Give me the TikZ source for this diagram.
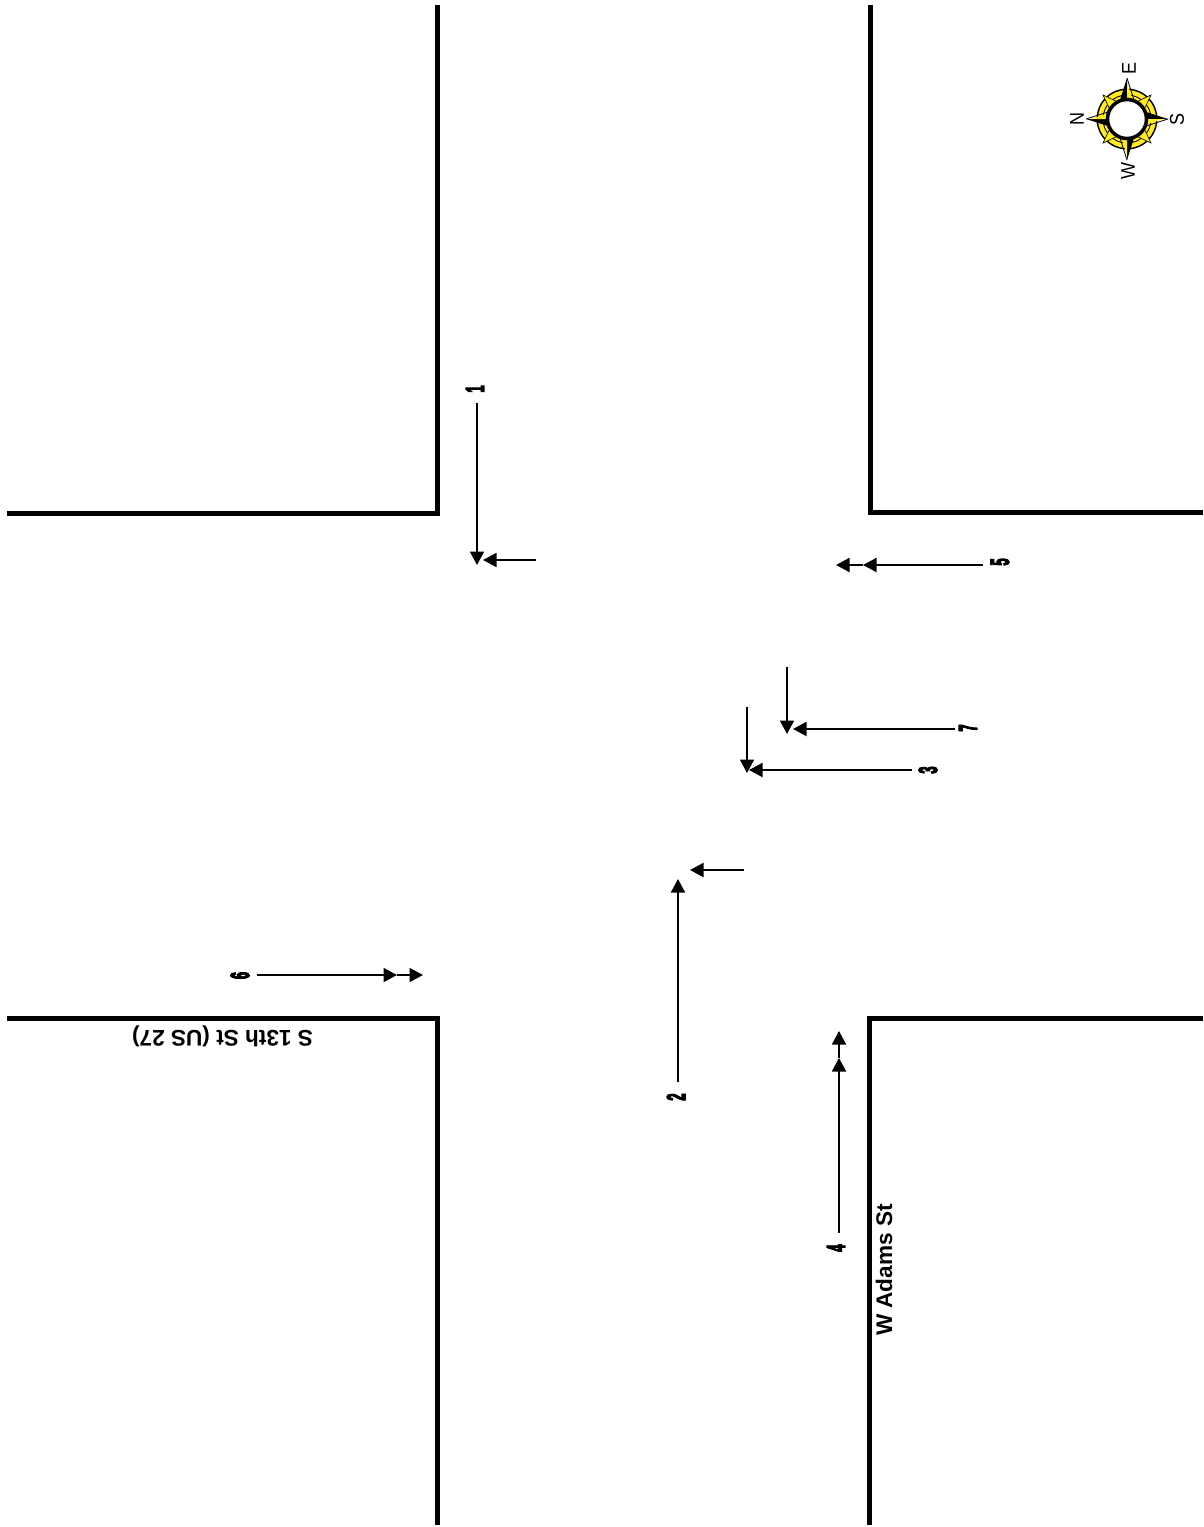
\documentclass[tikz,border=0pt]{standalone}
\usepackage{fontspec}
\setmainfont{Liberation Sans}[Kerning=Off]
\newfontfamily\blobfont{Liberation Sans Bold}[FakeBold=6,Kerning=Off]
\usetikzlibrary{arrows.meta}
\definecolor{ringyellow}{RGB}{255,235,30}
\newcommand\squeezed[1]{\scalebox{.5}[1]{#1}}
\newcommand\compassletter[1]{\scalebox{.9}[1]{#1}}
\tikzset{
  wall/.style={line width=5pt,line join=miter},
  arrowline/.style={line width=1.8pt,-{Triangle[length=13.5pt,width=14pt]}},
  number/.style={rotate=90,inner sep=0pt,font=\blobfont\fontsize{26}{26}\selectfont},
  street/.style={inner sep=0pt,font=\bfseries\fontsize{22.6}{24}\selectfont},
  dirletter/.style={rotate=90,inner sep=0pt,font=\fontsize{20}{21}\selectfont},
}
\begin{document}
\begin{tikzpicture}[x=1pt,y=-1pt]
\useasboundingbox (0,0) rectangle (1203,1527);
\fill[white] (0,0) rectangle (1203,1527);
% road edges
\draw[wall] (437,5) -- (437,513) -- (7,513);
\draw[wall] (870,5) -- (870,512.5) -- (1203,512.5);
\draw[wall] (7,1018.5) -- (437,1018.5) -- (437,1525);
\draw[wall] (869.5,1525) -- (869.5,1018.5) -- (1203,1018.5);
% street names
\node[street,rotate=180] (sthirteen) at (222.5,1036) {S 13th St (US 27)};
\node[street,rotate=90] (wadams) at (884,1270) {W Adams St};
% movement numbers
\node[number] (n1) at (475,389) {\squeezed{1}};
\node[number] (n2) at (676,1097) {\squeezed{2}};
\node[number] (n3) at (928,770) {\squeezed{3}};
\node[number] (n4) at (836,1248) {\squeezed{4}};
\node[number] (n5) at (1000,562) {\squeezed{5}};
\node[number] (n6) at (240,975.5) {\squeezed{6}};
\node[number] (n7) at (968,728) {\squeezed{7}};
% arrow ends
\coordinate (a1s) at (477,403); \coordinate (a1e) at (477,565);
\coordinate (b1s) at (536,560); \coordinate (b1e) at (483,560);
\coordinate (a5s) at (983,565); \coordinate (a5m) at (863,565); \coordinate (a5e) at (836,565);
\coordinate (a7s) at (955,729); \coordinate (a7e) at (793,729);
\coordinate (b7s) at (787,667); \coordinate (b7e) at (787,734);
\coordinate (a3s) at (912,770); \coordinate (a3e) at (749,770);
\coordinate (b3s) at (747,707); \coordinate (b3e) at (747,773);
\coordinate (a2s) at (678,1082); \coordinate (a2e) at (678,879);
\coordinate (b2s) at (744,870); \coordinate (b2e) at (690,870);
\coordinate (a4s) at (839,1233); \coordinate (a4m) at (839,1058); \coordinate (a4e) at (839,1031);
\coordinate (a6s) at (257,975); \coordinate (a6m) at (397,975); \coordinate (a6e) at (423,975);
\draw[arrowline] (a1s) -- (a1e);
\draw[arrowline] (b1s) -- (b1e);
\draw[arrowline] (a5s) -- (a5m);
\draw[arrowline] (a5m) -- (a5e);
\draw[arrowline] (a7s) -- (a7e);
\draw[arrowline] (b7s) -- (b7e);
\draw[arrowline] (a3s) -- (a3e);
\draw[arrowline] (b3s) -- (b3e);
\draw[arrowline] (a2s) -- (a2e);
\draw[arrowline] (b2s) -- (b2e);
\draw[arrowline] (a4s) -- (a4m);
\draw[arrowline] (a4m) -- (a4e);
\draw[arrowline] (a6s) -- (a6m);
\draw[arrowline] (a6m) -- (a6e);
% compass
\begin{scope}[shift={(1127,119)}]
  \fill[black] (0,0) circle (30.5);
  \fill[ringyellow] (0,0) circle (29);
  \fill[black] (0,0) circle (24.5);
  \fill[ringyellow] (0,0) circle (23.5);
  \foreach \a in {45,135,225,315}{
    \begin{scope}[rotate=\a]
      \filldraw[fill=ringyellow,draw=black,line width=.6pt] (0,-34) -- (5,-20) -- (-5,-20) -- cycle;
    \end{scope}
  }
  \foreach \a in {0,90,180,270}{
    \begin{scope}[rotate=\a]
      \fill[black] (0,-41) -- (-7,-19) -- (0,-19) -- cycle;
      \fill[ringyellow] (0,-36) -- (5.5,-19) -- (0,-19) -- cycle;
      \draw[black,line width=.8pt] (0,-41) -- (7,-19);
    \end{scope}
  }
  \filldraw[fill=white,draw=black,line width=3.5pt] (0,0) circle (19.5);
\end{scope}
\node[dirletter] (dirE) at (1129,68) {\compassletter{E}};
\node[dirletter] (dirN) at (1077,119) {\compassletter{N}};
\node[dirletter] (dirS) at (1177,119) {\compassletter{S}};
\node[dirletter] (dirW) at (1128,171) {\compassletter{W}};
\end{tikzpicture}
\end{document}
